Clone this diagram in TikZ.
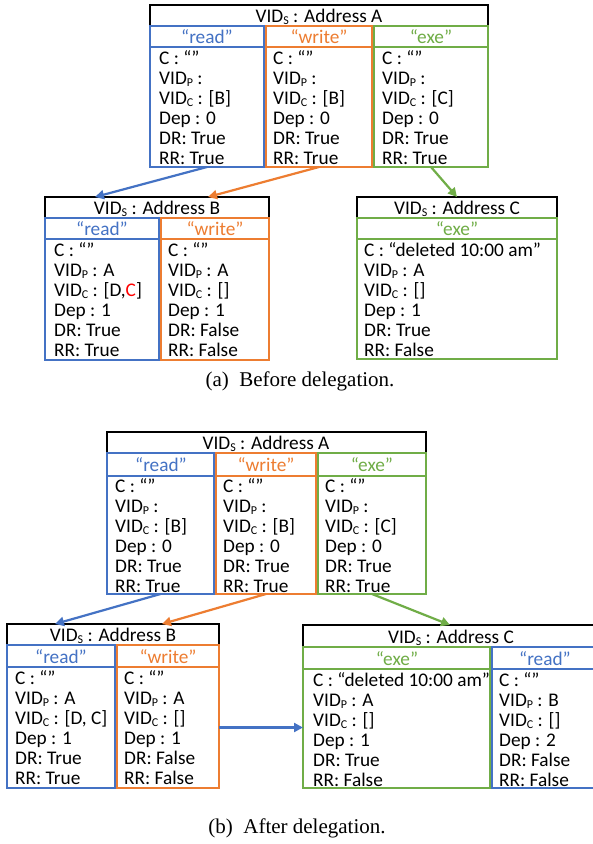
\documentclass[tikz,border=0pt]{standalone}
\usepackage{fontspec}
\setmainfont{Carlito}
\newfontfamily\capfont{Liberation Serif}
\usetikzlibrary{fit,calc,arrows.meta}
\definecolor{cblue}{HTML}{4472C4}
\definecolor{corange}{HTML}{ED7D31}
\definecolor{cgreen}{HTML}{70AD47}
\newcommand{\sbs}[1]{\raisebox{-0.25ex}{\fontsize{12}{12}\selectfont #1}}
\newcommand{\rowfont}{\fontsize{19.3}{20}\selectfont}
\newcommand{\rowset}[9]{%
  \node[rowtxt] (#1-1) at (#2,#3) {#4};
  \node[rowtxt] (#1-2) at (#2,{#3+20}) {#5};
  \node[rowtxt] (#1-3) at (#2,{#3+40}) {#6};
  \node[rowtxt] (#1-4) at (#2,{#3+60}) {#7};
  \node[rowtxt] (#1-5) at (#2,{#3+80}) {#8};
  \node[rowtxt] (#1-6) at (#2,{#3+100}) {#9};
}
\tikzset{
  cellbox/.style={draw=#1, line width=2pt, inner sep=0pt, outer sep=0pt},
  lbl/.style={text=#1, inner sep=0pt, font=\rowfont, anchor=base},
  rowtxt/.style={anchor=base west, inner sep=0pt, font=\rowfont},
  conn/.style={draw=#1, line width=2.2pt, -{Triangle[length=9pt,width=9pt]}},
  captxt/.style={font=\capfont\fontsize{21}{24}\selectfont, inner sep=0pt}
}
\begin{document}
\begin{tikzpicture}[x=1pt,y=-1pt]
\useasboundingbox[fill=white] (0,0) rectangle (593,844);

% ---------------- (a) Table A ----------------
\node[cellbox=black, fit={(150,5) (488,26)}] (aH) {};
\node[cellbox=cblue, fit={(150,26) (264,47)}] (aRh) {};
\node[cellbox=corange, fit={(266,26) (372,47)}] (aWh) {};
\node[cellbox=cgreen, fit={(374,26) (488,47)}] (aEh) {};
\node[cellbox=cblue, fit={(150,47) (264,167)}] (aR) {};
\node[cellbox=corange, fit={(266,47) (372,167)}] (aW) {};
\node[cellbox=cgreen, fit={(374,47) (488,167)}] (aE) {};
\node[lbl=black] (aHt) at (319,22) {VID\sbs{S} : Address A};
\node[lbl=cblue] (aRht) at (207,43) {“read”};
\node[lbl=corange] (aWht) at (319,43) {“write”};
\node[lbl=cgreen] (aEht) at (431,43) {“exe”};
\rowset{aRt}{159}{64}{C : “”}{VID\sbs{P} :}{VID\sbs{C} : [B]}{Dep : 0}{DR: True}{RR: True}
\rowset{aWt}{273}{64}{C : “”}{VID\sbs{P} :}{VID\sbs{C} : [B]}{Dep : 0}{DR: True}{RR: True}
\rowset{aEt}{382}{64}{C : “”}{VID\sbs{P} :}{VID\sbs{C} : [C]}{Dep : 0}{DR: True}{RR: True}

% ---------------- (a) Table B ----------------
\node[cellbox=black, fit={(45,197) (269,218)}] (bH) {};
\node[cellbox=cblue, fit={(45,218) (159,239)}] (bRh) {};
\node[cellbox=corange, fit={(161,218) (269,239)}] (bWh) {};
\node[cellbox=cblue, fit={(45,239) (159,360)}] (bR) {};
\node[cellbox=corange, fit={(161,239) (269,360)}] (bW) {};
\node[lbl=black] (bHt) at (157,214) {VID\sbs{S} : Address B};
\node[lbl=cblue] (bRht) at (102,235) {“read”};
\node[lbl=corange] (bWht) at (215,235) {“write”};
\rowset{bRt}{54}{256}{C : “”}{VID\sbs{P} : A}{VID\sbs{C} : [D,\textcolor{red}{C}]}{Dep : 1}{DR: True}{RR: True}
\rowset{bWt}{168}{256}{C : “”}{VID\sbs{P} : A}{VID\sbs{C} : []}{Dep : 1}{DR: False}{RR: False}

% ---------------- (a) Table C ----------------
\node[cellbox=black, fit={(357,197) (557,218)}] (cH) {};
\node[cellbox=cgreen, fit={(357,218) (557,239)}] (cEh) {};
\node[cellbox=cgreen, fit={(357,239) (557,359)}] (cE) {};
\node[lbl=black] (cHt) at (457,214) {VID\sbs{S} : Address C};
\node[lbl=cgreen] (cEht) at (457,235) {“exe”};
\rowset{cEt}{364}{256}{C : “deleted 10:00 am”}{VID\sbs{P} : A}{VID\sbs{C} : []}{Dep : 1}{DR: True}{RR: False}

% (a) connectors
\draw[conn=cblue] (aR.south) -- ($(bH.north west)+(50,0)$);
\draw[conn=corange] (aW.south) -- ($(bH.north west)+(163,0)$);
\draw[conn=cgreen] (aE.south) -- (cH.north);

\node[captxt] (capa) at (300,381) {(a)\hspace{0.5em}Before delegation.};

% ---------------- (b) Table A ----------------
\node[cellbox=black, fit={(107,432) (426,453)}] (AH) {};
\node[cellbox=cblue, fit={(107,453) (214,476)}] (ARh) {};
\node[cellbox=corange, fit={(216,453) (316,476)}] (AWh) {};
\node[cellbox=cgreen, fit={(318,453) (426,476)}] (AEh) {};
\node[cellbox=cblue, fit={(107,476) (214,594)}] (AR) {};
\node[cellbox=corange, fit={(216,476) (316,594)}] (AW) {};
\node[cellbox=cgreen, fit={(318,476) (426,594)}] (AE) {};
\node[lbl=black] (AHt) at (266,449) {VID\sbs{S} : Address A};
\node[lbl=cblue] (ARht) at (161,471) {“read”};
\node[lbl=corange] (AWht) at (266,471) {“write”};
\node[lbl=cgreen] (AEht) at (372,471) {“exe”};
\rowset{ARt}{115}{492}{C : “”}{VID\sbs{P} :}{VID\sbs{C} : [B]}{Dep : 0}{DR: True}{RR: True}
\rowset{AWt}{223}{492}{C : “”}{VID\sbs{P} :}{VID\sbs{C} : [B]}{Dep : 0}{DR: True}{RR: True}
\rowset{AEt}{325}{492}{C : “”}{VID\sbs{P} :}{VID\sbs{C} : [C]}{Dep : 0}{DR: True}{RR: True}

% ---------------- (b) Table B ----------------
\node[cellbox=black, fit={(7,624) (219,645)}] (BH) {};
\node[cellbox=cblue, fit={(7,645) (115,667)}] (BRh) {};
\node[cellbox=corange, fit={(117,645) (219,667)}] (BWh) {};
\node[cellbox=cblue, fit={(7,667) (115,788)}] (BR) {};
\node[cellbox=corange, fit={(117,667) (219,788)}] (BW) {};
\node[lbl=black] (BHt) at (113,641) {VID\sbs{S} : Address B};
\node[lbl=cblue] (BRht) at (61,663) {“read”};
\node[lbl=corange] (BWht) at (168,663) {“write”};
\rowset{BRt}{15}{684}{C : “”}{VID\sbs{P} : A}{VID\sbs{C} : [D, C]}{Dep : 1}{DR: True}{RR: True}
\rowset{BWt}{124}{684}{C : “”}{VID\sbs{P} : A}{VID\sbs{C} : []}{Dep : 1}{DR: False}{RR: False}

% ---------------- (b) Table C ----------------
\node[cellbox=black, fit={(303,625) (597,647)}] (CH) {};
\node[cellbox=cgreen, fit={(303,647) (490,669)}] (CEh) {};
\node[cellbox=cblue, fit={(492,647) (597,669)}] (CRh) {};
\node[cellbox=cgreen, fit={(303,669) (490,788)}] (CE) {};
\node[cellbox=cblue, fit={(492,669) (597,788)}] (CR) {};
\node[lbl=black] (CHt) at (451,643) {VID\sbs{S} : Address C};
\node[lbl=cgreen] (CEht) at (397,665) {“exe”};
\node[lbl=cblue] (CRht) at (545,665) {“read”};
\rowset{CEt}{313}{686}{C : “deleted 10:00 am”}{VID\sbs{P} : A}{VID\sbs{C} : []}{Dep : 1}{DR: True}{RR: False}
\rowset{CRt}{499}{686}{C : “”}{VID\sbs{P} : B}{VID\sbs{C} : []}{Dep : 2}{DR: False}{RR: False}

% (b) connectors
\draw[conn=cblue] (AR.south) -- ($(BH.north west)+(48,0)$);
\draw[conn=corange] (AW.south) -- ($(BH.north west)+(155,0)$);
\draw[conn=cgreen] (AE.south) -- ($(CH.north west)+(147,0)$);
\draw[conn=cblue] (BW.east) -- (BW.east -| CE.west);

\node[captxt] (capb) at (297,828) {(b)\hspace{0.5em}After delegation.};
\end{tikzpicture}
\end{document}
